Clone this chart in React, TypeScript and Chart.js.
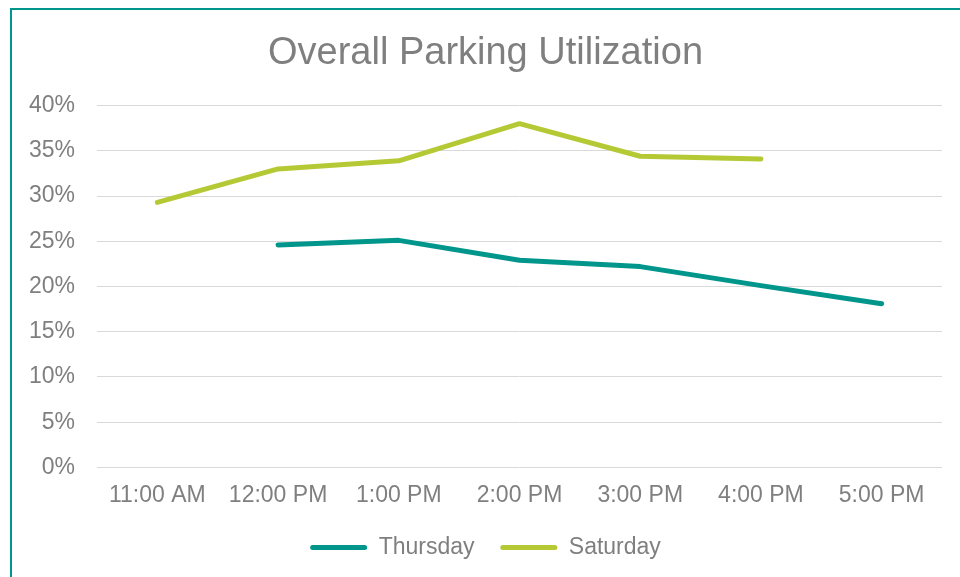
import React, { useEffect, useRef } from "react";
import { Chart, registerables } from "chart.js";

Chart.register(...registerables);

const categories = ["11:00 AM", "12:00 PM", "1:00 PM", "2:00 PM", "3:00 PM", "4:00 PM", "5:00 PM"];
const thursday: (number | null)[] = [null, 24.6, 25.1, 22.9, 22.2, 20.1, 18.1];
const saturday: (number | null)[] = [29.3, 33.0, 33.9, 38.0, 34.4, 34.1, null];
const seriesNames = ["Thursday", "Saturday"];
const seriesColors = ["#00968C", "#B5C935"];
const chartTitle = "Overall Parking Utilization";

const FONT = "Arial, 'Liberation Sans', sans-serif";
const GREY = "#7F7F7F";

export default function App() {
  const canvasRef = useRef<HTMLCanvasElement | null>(null);

  useEffect(() => {
    document.body.style.margin = "0";
    document.body.style.overflow = "hidden";
    const ctx = canvasRef.current;
    if (!ctx) return;
    const chart = new Chart(ctx, {
      type: "line",
      data: {
        labels: categories,
        datasets: [thursday, saturday].map((d, i) => ({
          label: seriesNames[i],
          data: d,
          borderColor: seriesColors[i],
          backgroundColor: seriesColors[i],
          borderWidth: 5,
          pointRadius: 0,
          pointHoverRadius: 0,
          borderCapStyle: "round" as const,
          borderJoinStyle: "round" as const,
          tension: 0,
          spanGaps: false,
        })),
      },
      options: {
        responsive: true,
        maintainAspectRatio: false,
        animation: false,
        layout: { padding: { top: 21, left: 17, right: 18, bottom: 8 } },
        plugins: {
          title: {
            display: true,
            text: chartTitle,
            color: GREY,
            font: { family: FONT, size: 38, weight: "normal" },
            padding: { top: 0, bottom: 29 },
          },
          legend: {
            position: "bottom",
            labels: {
              color: GREY,
              font: { family: FONT, size: 23 },
              boxWidth: 57,
              boxHeight: 5,
              padding: 13,
              useBorderRadius: true,
              borderRadius: 2.5,
              generateLabels: () =>
                seriesNames.map((n, i) => ({
                  text: i === 0 ? n + "  " : n,
                  fillStyle: seriesColors[i],
                  strokeStyle: seriesColors[i],
                  lineWidth: 0,
                  hidden: false,
                  datasetIndex: i,
                  borderRadius: 2.5,
                  fontColor: GREY,
                })),
            },
          },
          tooltip: { enabled: false },
        },
        scales: {
          x: {
            offset: true,
            grid: { display: false, drawTicks: false },
            border: { display: false },
            ticks: { color: GREY, font: { family: FONT, size: 23 }, padding: 14, maxRotation: 0, autoSkip: false },
            afterFit: (s: any) => {
              s.paddingLeft = 0;
              s.paddingRight = 0;
            },
          },
          y: {
            min: 0,
            max: 40,
            grid: { color: "#D9D9D9", lineWidth: 1, drawTicks: false },
            border: { display: false },
            ticks: {
              stepSize: 5,
              color: GREY,
              font: { family: FONT, size: 23 },
              padding: 22,
              callback: (v: any) => `${v}%`,
            },
            afterFit: (s: any) => {
              s.width = 68;
            },
          },
        },
      },
    });
    return () => chart.destroy();
  }, []);

  return (
    <div style={{ position: "fixed", left: 0, top: 0, width: 960, height: 577, overflow: "hidden", background: "#fff" }}>
      <div
        style={{
          position: "absolute",
          left: 10,
          top: 8,
          width: 970,
          height: 600,
          border: "2px solid #00968C",
          boxSizing: "border-box",
        }}
      >
        <div style={{ position: "absolute", left: 0, top: 0, width: 948, height: 567 }}>
          <canvas ref={canvasRef} />
        </div>
      </div>
    </div>
  );
}
